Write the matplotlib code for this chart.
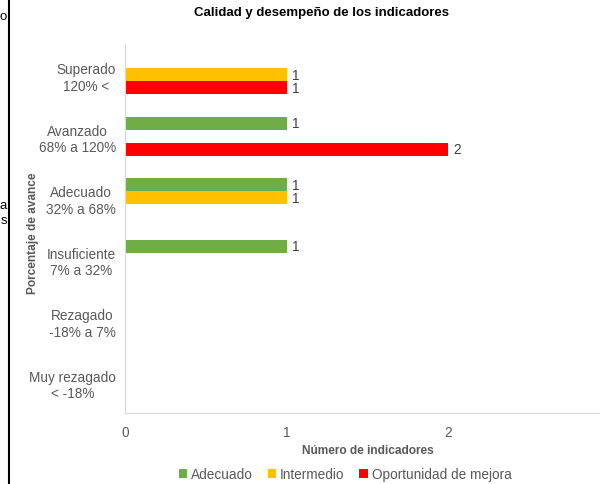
import matplotlib.pyplot as plt
from matplotlib.patches import Patch
from matplotlib.lines import Line2D
import numpy as np

plt.rcParams['font.family'] = ['Liberation Sans', 'DejaVu Sans']

# categories, top to bottom
categories = ["Superado\n120% <", "Avanzado\n68% a 120%", "Adecuado\n32% a 68%",
              "Insuficiente\n7% a 32%", "Rezagado\n-18% a 7%", "Muy rezagado\n< -18%"]
adecuado = [0, 1, 1, 1, 0, 0]
intermedio = [1, 0, 1, 0, 0, 0]
oportunidad = [1, 2, 0, 0, 0, 0]
series_names = ["Adecuado", "Intermedio", "Oportunidad de mejora"]
colors = ["#70AD47", "#FFC000", "#FF0000"]
x_ticks = [0, 1, 2]

fig = plt.figure(figsize=(6, 4.85), dpi=100)
W, H = 600, 485
# plot area runs past the right edge of the picture (cropped chart)
ax = fig.add_axes([125 / W, 1 - 414 / H, (610 - 125) / W, (414 - 45) / H])

y = np.arange(len(categories))
bh = 0.21
for i, (vals, name, c) in enumerate(zip([adecuado, intermedio, oportunidad], series_names, colors)):
    pos = y + (i - 1) * bh
    bars = ax.barh(pos, vals, height=bh, color=c, label=name)
    for b, v in zip(bars, vals):
        if v:
            ax.text(v + 0.03, b.get_y() + b.get_height() / 2, str(v), va='center', ha='left',
                    fontsize=9.8, color='#404040')

ax.set_ylim(len(categories) - 0.5, -0.5)
ax.set_xlim(0, 3)
ax.set_xticks(x_ticks)
ax.set_yticks(y)
ax.set_yticklabels(categories)
for lab in ax.get_yticklabels():
    lab.set_multialignment('center')
    lab.set_linespacing(1.25)
ax.tick_params(axis='both', length=0, labelsize=9.8, labelcolor='#595959')
ax.tick_params(axis='y', pad=6.5)
ax.tick_params(axis='x', pad=9)
for s in ['top', 'right']:
    ax.spines[s].set_visible(False)
for s in ['left', 'bottom']:
    ax.spines[s].set_color('#D9D9D9')

ax.set_xlabel("Número de indicadores", fontsize=8.6, fontweight='bold', color='#595959', labelpad=3)
fig.text(33 / W, 1 - 233 / H, "Porcentaje de avance", rotation=90, ha='center', va='center',
         fontsize=8.6, fontweight='bold', color='#595959')
fig.text(322 / W, 1 - 13 / H, "Calidad y desempeño de los indicadores", ha='center', va='center',
         fontsize=9.5, fontweight='bold', color='#000000')

handles = [Patch(facecolor=c) for c in colors]
fig.legend(handles, series_names, loc='center', bbox_to_anchor=(345 / W, 1 - 475 / H), ncol=3,
           frameon=False, fontsize=9.8, labelcolor='#595959', handlelength=0.6, handleheight=0.6,
           handletextpad=0.3, columnspacing=1.1)

# clipped bits of a neighbouring element on the left edge
fig.add_artist(Line2D([9 / W, 9 / W], [0, 1], color='black', linewidth=1.5))
for ty, t in [(17, "o"), (206, "a"), (221, "s")]:
    fig.text(7 / W, 1 - ty / H, t, ha='right', va='center', fontsize=9.5, color='black')

fig.savefig("out.png", dpi=100)
